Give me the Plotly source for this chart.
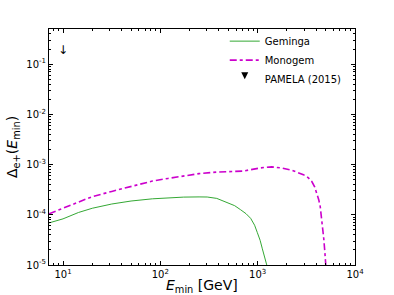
import plotly.graph_objects as go

# Geminga contribution
gem_E = [7.2, 10, 14.4, 20, 31.7, 50, 82.8, 120, 174, 250, 303, 380, 487, 580, 668, 760, 847, 930, 993, 1060, 1117, 1180, 1240]
gem_D = [6.9e-5, 8.3e-5, 1.11e-4, 1.35e-4, 1.64e-4, 1.88e-4, 2.08e-4, 2.18e-4, 2.25e-4, 2.27e-4, 2.26e-4, 2.12e-4, 1.78e-4, 1.52e-4, 1.26e-4, 1.05e-4, 8.5e-5, 6.2e-5, 4.4e-5, 3.1e-5, 2.1e-5, 1.45e-5, 1.0e-5]

# Monogem contribution
mon_E = [7.2, 10, 14.4, 20, 31.7, 50, 82.8, 120, 174, 250, 385, 550, 700, 847, 1072, 1393, 1800, 2240, 2950, 3300, 3600, 3850, 4060, 4240, 4390, 4520, 4650, 4780, 4880, 5010]
mon_D = [1.05e-4, 1.35e-4, 1.85e-4, 2.3e-4, 2.92e-4, 3.7e-4, 4.7e-4, 5.3e-4, 6.0e-4, 6.6e-4, 7.1e-4, 7.3e-4, 7.4e-4, 7.9e-4, 8.6e-4, 9.0e-4, 8.5e-4, 7.7e-4, 6.3e-4, 5.5e-4, 4.6e-4, 3.6e-4, 2.7e-4, 2.0e-4, 1.47e-4, 9.5e-5, 5.8e-5, 3.3e-5, 2.0e-5, 1.0e-5]

# PAMELA (2015) upper limit
pam_E = [10]
pam_D = [0.18]

x_tickvals = [10, 100, 1000, 10000]
x_ticktext = ["10<sup>1</sup>", "10<sup>2</sup>", "10<sup>3</sup>", "10<sup>4</sup>"]
y_tickvals = [1e-5, 1e-4, 1e-3, 1e-2, 1e-1]
y_ticktext = ["10<sup>-5</sup>", "10<sup>-4</sup>", "10<sup>-3</sup>", "10<sup>-2</sup>", "10<sup>-1</sup>"]

x_title = "<i>E</i><sub>min</sub> [GeV]"
y_title = "Δ<sub>e+</sub>(<i>E</i><sub>min</sub>)"

font = "DejaVu Sans, Liberation Sans, sans-serif"

fig = go.Figure()
fig.add_trace(go.Scatter(x=gem_E, y=gem_D, mode="lines", name="Geminga",
                         line=dict(color="#34a834", width=1)))
fig.add_trace(go.Scatter(x=mon_E, y=mon_D, mode="lines", name="Monogem",
                         line=dict(color="#cc00cc", width=1.6, dash="7px,3px,3px,3px")))
fig.add_trace(go.Scatter(x=pam_E, y=pam_D, mode="text", text=["↓"], showlegend=False,
                         textfont=dict(size=12, color="black", family=font), textposition="middle center"))
fig.add_trace(go.Scatter(x=[None], y=[None], mode="markers", name="PAMELA (2015)",
                         marker=dict(symbol="arrow-down", size=7, color="black")))

axis_common = dict(
    type="log", showline=True, linecolor="black", linewidth=1, mirror="allticks",
    ticks="inside", ticklen=4, tickcolor="black", showgrid=False, zeroline=False,
    minor=dict(ticks="inside", ticklen=2, tickcolor="black", dtick="D1", showgrid=False),
    tickfont=dict(size=10, color="black", family=font), automargin=False,
)

fig.update_xaxes(range=[0.856, 4], tickvals=x_tickvals, ticktext=x_ticktext, **axis_common)
fig.update_yaxes(range=[-5, -0.3], tickvals=y_tickvals, ticktext=y_ticktext, **axis_common)

fig.add_annotation(text=x_title, xref="paper", yref="paper", x=0.5, y=0, yshift=-21,
                   xanchor="center", yanchor="middle", showarrow=False,
                   font=dict(size=14, color="black", family=font))
fig.add_annotation(text=y_title, xref="paper", yref="paper", x=0, y=0.5, xshift=-36,
                   xanchor="center", yanchor="middle", textangle=-90, showarrow=False,
                   font=dict(size=14, color="black", family=font))

fig.update_layout(
    width=394, height=295,
    margin=dict(l=49, r=39, t=29, b=30),
    plot_bgcolor="white", paper_bgcolor="white",
    font=dict(family=font, color="black"),
    legend=dict(x=0.973, y=1.01, xanchor="right", yanchor="top", bgcolor="rgba(0,0,0,0)",
                font=dict(size=10, family=font, color="black"), tracegroupgap=0, itemwidth=30),
)

# remove the default 8px body margin so the figure sits at the window origin
fig.write_html("out.html", config={"displayModeBar": False},
               post_script="document.body.style.margin='0';")
